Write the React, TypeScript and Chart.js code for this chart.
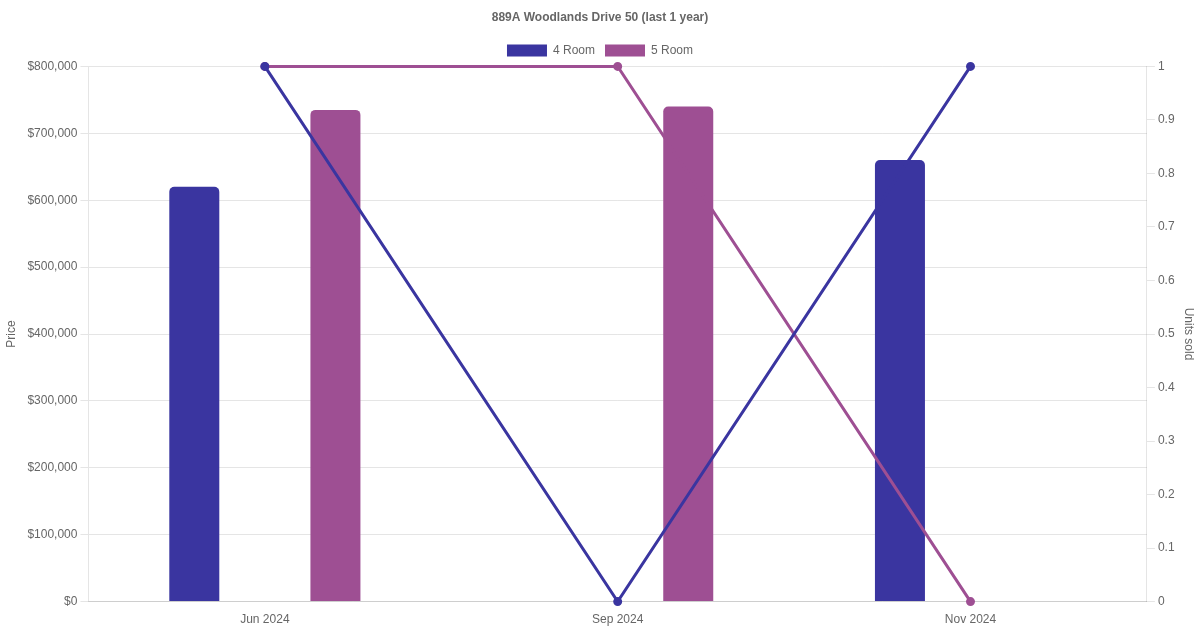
import React, { useEffect, useRef } from "react";
import { Chart, registerables } from "chart.js";

Chart.register(...registerables);

const categories = ["Jun 2024", "Sep 2024", "Nov 2024"];
const price4Room: (number | null)[] = [620000, null, 660000];
const price5Room: (number | null)[] = [735000, 740000, null];
const units4Room = [1, 0, 1];
const units5Room = [1, 1, 0];
const seriesNames = ["4 Room", "5 Room"];
const chartTitle = "889A Woodlands Drive 50 (last 1 year)";

const COLOR4 = "#3A35A0";
const COLOR5 = "#9E4F93";

export default function App() {
  const ref = useRef<HTMLCanvasElement | null>(null);
  useEffect(() => {
    document.body.style.margin = "0";
    if (!ref.current) return;
    const chart = new Chart(ref.current, {
      type: "bar",
      data: {
        labels: categories,
        datasets: [
          {
            type: "bar",
            label: seriesNames[0],
            data: price4Room,
            backgroundColor: COLOR4,
            borderColor: COLOR4,
            borderRadius: 5,
            maxBarThickness: 50,
            yAxisID: "y",
            order: 2,
          },
          {
            type: "bar",
            label: seriesNames[1],
            data: price5Room,
            backgroundColor: COLOR5,
            borderColor: COLOR5,
            borderRadius: 5,
            maxBarThickness: 50,
            yAxisID: "y",
            order: 2,
          },
          {
            type: "line",
            label: seriesNames[0] + " units",
            data: units4Room,
            borderColor: COLOR4,
            backgroundColor: COLOR4,
            borderWidth: 3,
            pointRadius: 3,
            tension: 0,
            fill: false,
            clip: false,
            yAxisID: "y1",
            order: 1,
          },
          {
            type: "line",
            label: seriesNames[1] + " units",
            data: units5Room,
            borderColor: COLOR5,
            backgroundColor: COLOR5,
            borderWidth: 3,
            pointRadius: 3,
            tension: 0,
            fill: false,
            clip: false,
            yAxisID: "y1",
            order: 1,
          },
        ],
      } as any,
      options: {
        animation: false,
        responsive: false,
        maintainAspectRatio: false,
        plugins: {
          title: {
            display: true,
            text: chartTitle,
            color: "#666",
            font: { size: 12, weight: "bold" },
          },
          legend: {
            labels: {
              color: "#666",
              filter: (item: any) => seriesNames.includes(item.text),
            },
          },
          tooltip: { enabled: false },
        },
        scales: {
          x: {
            grid: { display: false },
            ticks: { color: "#666" },
          },
          y: {
            position: "left",
            min: 0,
            max: 800000,
            ticks: {
              stepSize: 100000,
              color: "#666",
              callback: (v: any) => "$" + Number(v).toLocaleString("en-US"),
            },
            title: {
              display: true,
              text: "Price",
              color: "#666",
              padding: { top: 4, bottom: 6 },
            },
          },
          y1: {
            position: "right",
            min: 0,
            max: 1,
            ticks: {
              stepSize: 0.1,
              color: "#666",
              callback: (v: any) => String(Math.round(Number(v) * 10) / 10),
            },
            grid: { drawOnChartArea: false },
            title: { display: true, text: "Units sold", color: "#666" },
          },
        },
      } as any,
    });
    return () => chart.destroy();
  }, []);
  return (
    <div style={{ width: 1200, height: 630 }}>
      <canvas ref={ref} width={1200} height={630} style={{ display: "block" }} />
    </div>
  );
}
